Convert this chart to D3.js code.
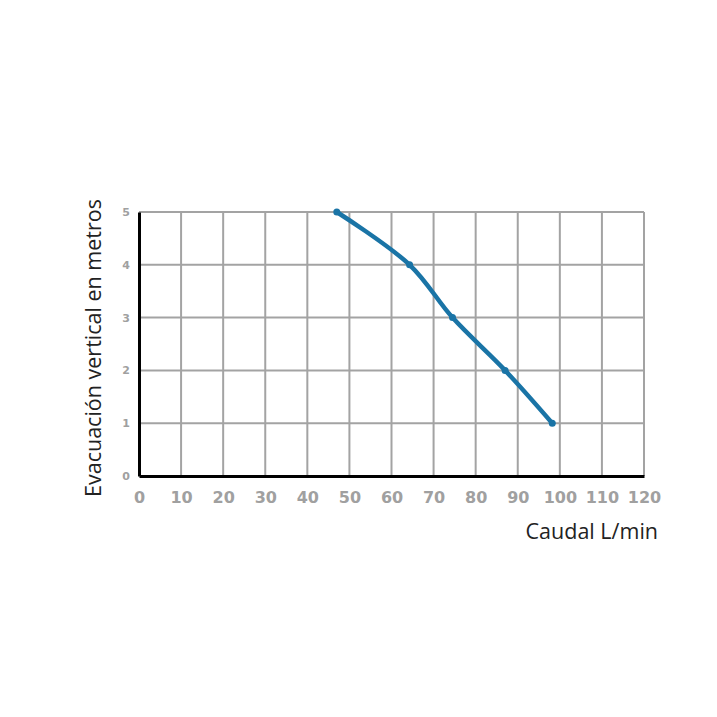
<!DOCTYPE html>
<html><head><meta charset="utf-8">
<script src="https://cdn.jsdelivr.net/npm/d3@7"></script>
<style>body{margin:0;background:#fff}svg{display:block}</style>
</head><body>
<script>
const flowValues = [47, 64.3, 74.5, 87, 98.2];
const heightValues = [5, 4, 3, 2, 1];
const xTicks = [0,10,20,30,40,50,60,70,80,90,100,110,120];
const yTicks = [0,1,2,3,4,5];
const xTitle = "Caudal L/min";
const yTitle = "Evacuación vertical en metros";

const W = 717, H = 717;
const svg = d3.select("body").append("svg").attr("width", W).attr("height", H);
const x = d3.scaleLinear().domain([0,120]).range([139,644]);
const y = d3.scaleLinear().domain([0,5]).range([476,212]);

const grid = svg.append("g").attr("stroke","#a3a3a3").attr("stroke-width",2);
grid.selectAll("line.v").data(xTicks.slice(1)).join("line")
  .attr("x1",d=>x(d)).attr("x2",d=>x(d)).attr("y1",y(0)).attr("y2",y(5));
grid.selectAll("line.h").data(yTicks.slice(1)).join("line")
  .attr("x1",x(0)).attr("x2",x(120)).attr("y1",d=>y(d)).attr("y2",d=>y(d));

// axes
const xAxis = d3.axisBottom(x).tickValues(xTicks).tickFormat(d3.format("d")).tickSize(0).tickPadding(16);
const gx = svg.append("g").attr("transform",`translate(0,${y(0)})`).call(xAxis);
gx.select(".domain").attr("stroke","#000").attr("stroke-width",3);
gx.selectAll("text").attr("fill","#a0a0a0").attr("font-family","'DejaVu Sans', sans-serif")
  .attr("font-size",16).attr("font-weight","600");
const yAxis = d3.axisLeft(y).tickValues(yTicks).tickFormat(d3.format("d")).tickSize(0).tickPadding(9);
const gy = svg.append("g").attr("transform",`translate(${x(0)},0)`).call(yAxis);
gy.select(".domain").attr("stroke","#000").attr("stroke-width",3);
gy.selectAll("text").attr("fill","#a0a0a0").attr("font-family","'DejaVu Sans', sans-serif")
  .attr("font-size",11).attr("font-weight","bold");

// data line
const pts = flowValues.map((f,i)=>[f,heightValues[i]]);
const line = d3.line().x(d=>x(d[0])).y(d=>y(d[1])).curve(d3.curveCatmullRom.alpha(0.5));
svg.append("path").datum(pts).attr("d",line).attr("fill","none")
  .attr("stroke","#1a74a6").attr("stroke-width",4.5).attr("stroke-linecap","round");
svg.selectAll("circle.pt").data(pts).join("circle")
  .attr("cx",d=>x(d[0])).attr("cy",d=>y(d[1])).attr("r",3.5).attr("fill","#1a74a6");

// titles
svg.append("text").attr("x",658).attr("y",539).attr("text-anchor","end")
  .attr("font-family","'Open Sans', sans-serif").attr("font-size",21.5).attr("fill","#222").text(xTitle);
svg.append("text").attr("transform",`translate(101,348) rotate(-90)`).attr("text-anchor","middle")
  .attr("font-family","'Open Sans', sans-serif").attr("font-size",21.5).attr("fill","#222").text(yTitle);
</script>
</body></html>
